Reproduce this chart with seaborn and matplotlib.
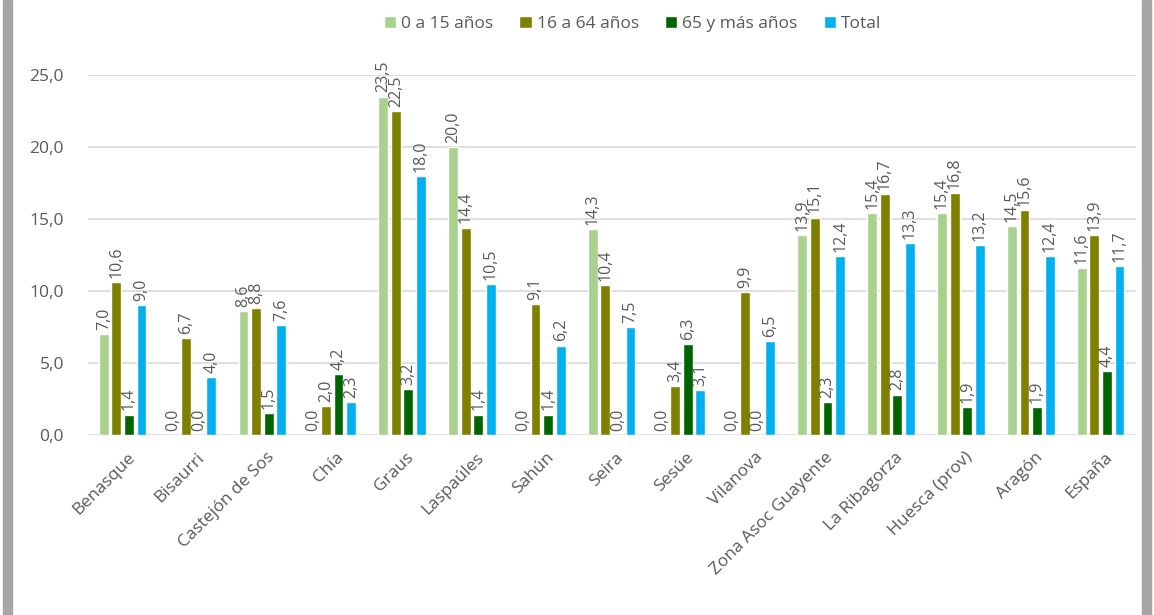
import matplotlib
matplotlib.use("Agg")
import matplotlib.pyplot as plt
import matplotlib.transforms as mtransforms
import seaborn as sns
import pandas as pd
from matplotlib.patches import Rectangle

categorias = ["Benasque", "Bisaurri", "Castejón de Sos", "Chía", "Graus", "Laspaúles",
              "Sahún", "Seira", "Sesúe", "Vilanova", "Zona Asoc Guayente",
              "La Ribagorza", "Huesca (prov)", "Aragón", "España"]
series = ["0 a 15 años", "16 a 64 años", "65 y más años", "Total"]
edad_0_15 = [7.0, 0.0, 8.6, 0.0, 23.5, 20.0, 0.0, 14.3, 0.0, 0.0, 13.9, 15.4, 15.4, 14.5, 11.6]
edad_16_64 = [10.6, 6.7, 8.8, 2.0, 22.5, 14.4, 9.1, 10.4, 3.4, 9.9, 15.1, 16.7, 16.8, 15.6, 13.9]
edad_65_mas = [1.4, 0.0, 1.5, 4.2, 3.2, 1.4, 1.4, 0.0, 6.3, 0.0, 2.3, 2.8, 1.9, 1.9, 4.4]
total = [9.0, 4.0, 7.6, 2.3, 18.0, 10.5, 6.2, 7.5, 3.1, 6.5, 12.4, 13.3, 13.2, 12.4, 11.7]
colores = ["#A9D18E", "#808000", "#006400", "#00B0F0"]

rows = []
for serie, valores in zip(series, [edad_0_15, edad_16_64, edad_65_mas, total]):
    for cat, v in zip(categorias, valores):
        rows.append({"zona": cat, "serie": serie, "valor": v})
df = pd.DataFrame(rows)

sns.set_theme(style="white")
plt.rcParams["font.family"] = ["Open Sans", "DejaVu Sans"]
texto = "#595959"

fig = plt.figure(figsize=(11.54, 6.15), dpi=100)
ax = fig.add_axes([0.076, 0.293, 0.908, 0.585])

sns.barplot(data=df, x="zona", y="valor", hue="serie", hue_order=series,
            order=categorias, palette=colores, width=0.72, gap=0.22,
            saturation=1, ax=ax, legend=True)

for cont in ax.containers:
    ax.bar_label(cont, labels=[f"{b.get_height():.1f}".replace(".", ",") for b in cont],
                 rotation=90, padding=3, fontsize=11.5, color=texto)

ax.set_ylim(0, 25)
ax.set_xlim(-0.5, len(categorias) - 0.5)
ax.set_yticks([0, 5, 10, 15, 20, 25])
ax.set_yticklabels([f"{t:.1f}".replace(".", ",") for t in [0, 5, 10, 15, 20, 25]],
                   fontsize=12.5, color=texto)
ax.tick_params(axis="y", length=0, pad=17)
ax.tick_params(axis="x", length=0, pad=4)
shift = mtransforms.ScaledTranslation(4 / 100, -9 / 100, fig.dpi_scale_trans)
for lbl in ax.get_xticklabels():
    lbl.set_rotation(45)
    lbl.set_ha("right")
    lbl.set_rotation_mode("anchor")
    lbl.set_fontsize(12.5)
    lbl.set_color(texto)
    lbl.set_transform(lbl.get_transform() + shift)
ax.set_xlabel("")
ax.set_ylabel("")
ax.yaxis.grid(True, color="#D9D9D9", linewidth=1.2)
ax.set_axisbelow(True)
for s in ax.spines.values():
    s.set_visible(False)

leg = ax.legend(loc="center", bbox_to_anchor=(0.52, 1.142), ncol=4, frameon=False,
                handlelength=0.7, handleheight=0.7, handletextpad=0.3, columnspacing=1.5,
                fontsize=12.5)
for t in leg.get_texts():
    t.set_color(texto)

# gray frame edges of the figure
fig.patches.append(Rectangle((0.003, 0), 0.007, 1, transform=fig.transFigure,
                             color="#A6A6A6", zorder=0))
fig.patches.append(Rectangle((0.990, 0), 0.007, 1, transform=fig.transFigure,
                             color="#A6A6A6", zorder=0))

fig.savefig("out.png", dpi=100)
